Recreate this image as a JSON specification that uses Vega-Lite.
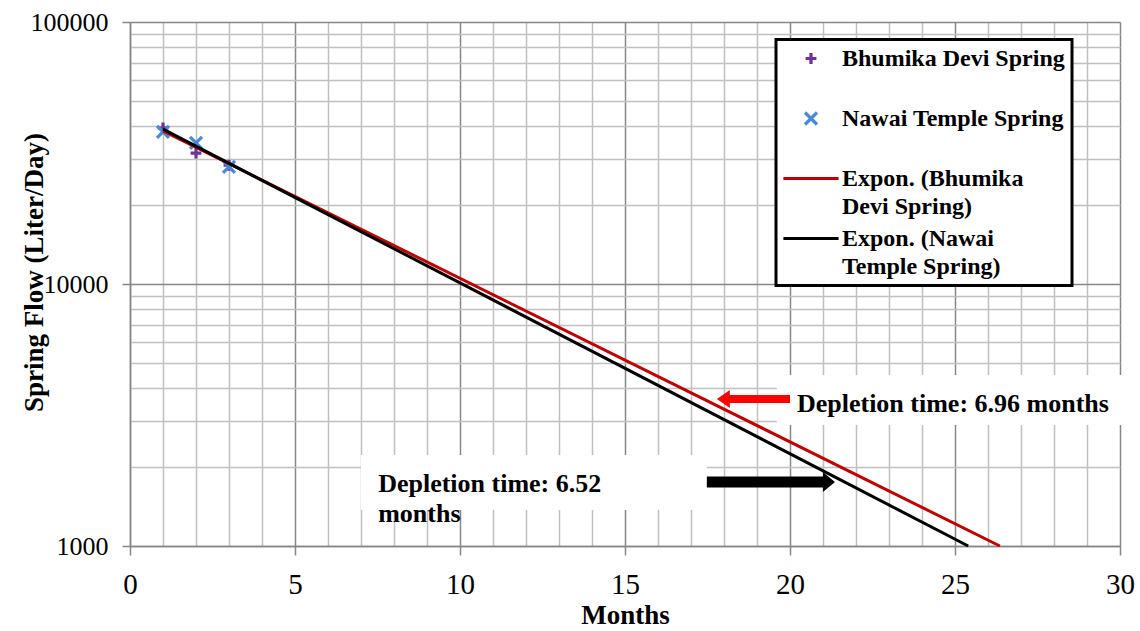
{
  "$schema": "https://vega.github.io/schema/vega-lite/v6.json",
  "width": 990,
  "height": 524,
  "autosize": "none",
  "padding": {"left": 130, "top": 22, "right": 20, "bottom": 85},
  "background": "white",
  "config": {
    "font": "Liberation Serif",
    "view": {"stroke": null},
    "style": {"guide-label": {"lineHeight": 28}},
    "legend": {
      "orient": "none",
      "legendX": 646,
      "legendY": 17.5,
      "padding": 7,
      "fillColor": "white",
      "strokeColor": "black",
      "strokeWidth": 3,
      "labelFont": "Liberation Serif",
      "labelFontWeight": "bold",
      "labelFontSize": 24,
      "labelColor": "black",
      "labelLimit": 400,
      "labelOffset": 19,
      "symbolOffset": 16,
      "symbolSize": 144,
      "symbolStrokeWidth": 3.2,
      "symbolOpacity": 1,
      "symbolFillColor": "transparent",
      "rowPadding": 7,
      "gridAlign": "all"
    }
  },
  "datasets": {
    "points": [
      {"month": 1, "flow": 39400, "series": "Bhumika Devi Spring"},
      {"month": 2, "flow": 31600, "series": "Bhumika Devi Spring"},
      {"month": 3, "flow": 28400, "series": "Bhumika Devi Spring"},
      {"month": 1, "flow": 38100, "series": "Nawai Temple Spring"},
      {"month": 2, "flow": 34600, "series": "Nawai Temple Spring"},
      {"month": 3, "flow": 28000, "series": "Nawai Temple Spring"}
    ],
    "trendBhumika": [
      {"month": 1, "flow": 38370, "series": "Expon. (Bhumika Devi Spring)"},
      {"month": 26.36, "flow": 1000, "series": "Expon. (Bhumika Devi Spring)"}
    ],
    "trendNawai": [
      {"month": 1, "flow": 39000, "series": "Expon. (Nawai Temple Spring)"},
      {"month": 25.4, "flow": 1000, "series": "Expon. (Nawai Temple Spring)"}
    ],
    "boxes": [
      {"month": 7.0, "month2": 17.48, "flow": 1371, "flow2": 2223},
      {"month": 19.6, "month2": 30.5, "flow": 2897, "flow2": 4498}
    ],
    "notes": [
      {"month": 7.52, "flow": 1607, "text": "Depletion time: 6.52\nmonths"},
      {"month": 20.21, "flow": 3243, "text": "Depletion time: 6.96 months"}
    ],
    "redShaft": [{"month": 20.0, "month2": 18.1, "flow": 3640}],
    "redHead": [{"month": 17.98, "flow": 3640}],
    "blackShaft": [{"month": 17.48, "month2": 21.05, "flow": 1755}],
    "blackHead": [{"month": 21.18, "flow": 1755}]
  },
  "encoding": {
    "x": {
      "field": "month", "type": "quantitative",
      "scale": {"domain": [0, 30], "nice": false, "zero": false},
      "axis": {
        "values": [0,1,2,3,4,5,6,7,8,9,10,11,12,13,14,15,16,17,18,19,20,21,22,23,24,25,26,27,28,29,30],
        "tickCount": 31,
        "format": "d",
        "labelExpr": "datum.value % 5 === 0 ? datum.label : ''",
        "labelFont": "Liberation Serif",
        "labelFontSize": 29,
        "labelColor": "black",
        "labelPadding": 15,
        "labelOverlap": false,
        "labelFlush": false,
        "labelBound": false,
        "tickSize": 9,
        "tickColor": "#868686",
        "tickWidth": 1.5,
        "tickOpacity": {"condition": {"test": "datum.value % 5 === 0", "value": 1}, "value": 0},
        "grid": true,
        "gridColor": {"condition": {"test": "datum.value % 5 === 0", "value": "#878787"}, "value": "#c0c0c0"},
        "gridWidth": 1.5,
        "gridOpacity": 1,
        "domainColor": "#868686",
        "domainWidth": 1.5,
        "title": "Months",
        "titleFont": "Liberation Serif",
        "titleFontSize": 27,
        "titleFontWeight": "bold",
        "titleColor": "black",
        "titleBaseline": "alphabetic",
        "titleY": 77
      }
    },
    "y": {
      "field": "flow", "type": "quantitative",
      "scale": {"type": "log", "domain": [1000, 100000], "nice": false},
      "axis": {
        "values": [1000,2000,3000,4000,5000,6000,7000,8000,9000,10000,20000,30000,40000,50000,60000,70000,80000,90000,100000],
        "format": "d",
        "labelExpr": "indexof([1000,10000,100000], datum.value) >= 0 ? datum.label : ''",
        "labelFont": "Liberation Serif",
        "labelFontSize": 26,
        "labelColor": "black",
        "labelPadding": 14,
        "labelOverlap": false,
        "labelFlush": false,
        "labelBound": false,
        "tickSize": 8,
        "tickColor": "#868686",
        "tickWidth": 1.5,
        "tickOpacity": {"condition": {"test": "indexof([1000,10000,100000], datum.value) >= 0", "value": 1}, "value": 0},
        "grid": true,
        "gridColor": {"condition": {"test": "indexof([1000,10000,100000], datum.value) >= 0", "value": "#878787"}, "value": "#c0c0c0"},
        "gridWidth": 1.5,
        "gridOpacity": 1,
        "domainColor": "#868686",
        "domainWidth": 1.5,
        "title": "Spring Flow (Liter/Day)",
        "titleFont": "Liberation Serif",
        "titleFontSize": 27,
        "titleFontWeight": "bold",
        "titleColor": "black",
        "titleBaseline": "alphabetic",
        "titleX": -88,
        "titleY": 250
      }
    }
  },
  "layer": [
    {
      "data": {"name": "boxes"},
      "mark": {"type": "rect", "fill": "white", "strokeWidth": 0, "clip": false},
      "encoding": {
        "x2": {"field": "month2"},
        "y2": {"field": "flow2"}
      }
    },
    {
      "data": {"name": "points"},
      "mark": {"type": "point", "filled": false, "strokeWidth": 3.2, "size": 144, "opacity": 1},
      "encoding": {
        "color": {
          "field": "series", "type": "nominal",
          "scale": {
            "domain": ["Bhumika Devi Spring", "Nawai Temple Spring", "Expon. (Bhumika Devi Spring)", "Expon. (Nawai Temple Spring)"],
            "range": ["#7030A0", "#4A8AD4", "#C00000", "#000000"]
          },
          "legend": {
            "title": null,
            "labelExpr": "datum.label == 'Expon. (Bhumika Devi Spring)' ? ['Expon. (Bhumika', 'Devi Spring)'] : datum.label == 'Expon. (Nawai Temple Spring)' ? ['Expon. (Nawai', 'Temple Spring)'] : [datum.label, ' ']"
          }
        },
        "shape": {
          "field": "series", "type": "nominal",
          "scale": {
            "domain": ["Bhumika Devi Spring", "Nawai Temple Spring", "Expon. (Bhumika Devi Spring)", "Expon. (Nawai Temple Spring)"],
            "range": ["M-0.9,0L0.9,0M0,-0.9L0,0.9", "M-1,-1L1,1M-1,1L1,-1", "M-4.6,0L4.6,0", "M-4.6,0L4.6,0"]
          },
          "legend": {
            "title": null,
            "labelExpr": "datum.label == 'Expon. (Bhumika Devi Spring)' ? ['Expon. (Bhumika', 'Devi Spring)'] : datum.label == 'Expon. (Nawai Temple Spring)' ? ['Expon. (Nawai', 'Temple Spring)'] : [datum.label, ' ']"
          }
        }
      }
    },
    {
      "data": {"name": "trendBhumika"},
      "mark": {"type": "line", "strokeWidth": 3, "color": "#C00000"}
    },
    {
      "data": {"name": "trendNawai"},
      "mark": {"type": "line", "strokeWidth": 3, "color": "#000000"}
    },
    {
      "data": {"name": "redShaft"},
      "mark": {"type": "rule", "color": "#FF0000", "strokeWidth": 8, "strokeCap": "butt"},
      "encoding": {
        "x2": {"field": "month2"}
      }
    },
    {
      "data": {"name": "redHead"},
      "mark": {"type": "point", "filled": true, "color": "#FF0000", "opacity": 1, "size": 324, "shape": "M-0.72,0L0.72,-1L0.72,1Z"}
    },
    {
      "data": {"name": "blackShaft"},
      "mark": {"type": "rule", "color": "#000000", "strokeWidth": 11, "strokeCap": "butt"},
      "encoding": {
        "x2": {"field": "month2"}
      }
    },
    {
      "data": {"name": "blackHead"},
      "mark": {"type": "point", "filled": true, "color": "#000000", "opacity": 1, "size": 400, "shape": "M0.6,0L-0.6,-1L-0.6,1Z"}
    },
    {
      "data": {"name": "notes"},
      "mark": {"type": "text", "font": "Liberation Serif", "fontWeight": "bold", "fontSize": 26, "color": "black", "align": "left", "baseline": "alphabetic", "lineBreak": "\n", "lineHeight": 30},
      "encoding": {
        "text": {"field": "text"}
      }
    }
  ]
}
